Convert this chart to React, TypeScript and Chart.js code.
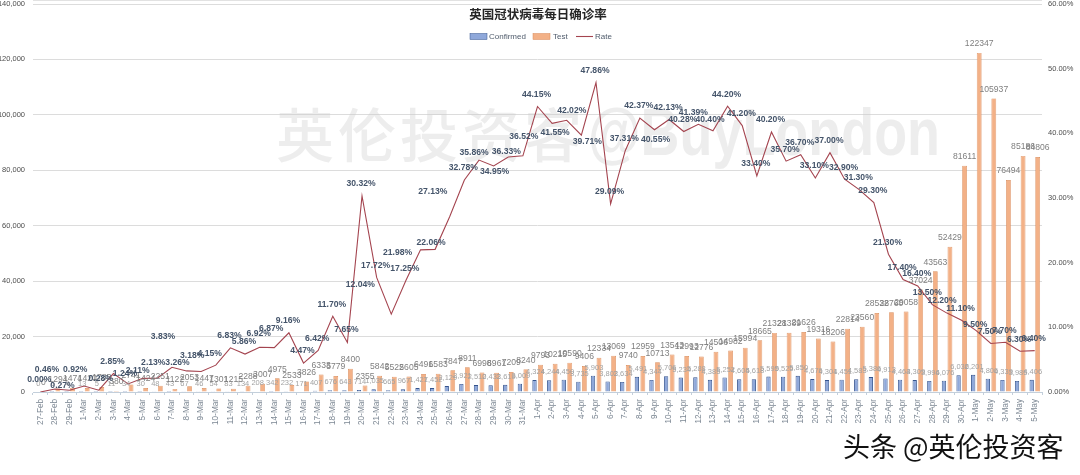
import React, { useEffect, useRef } from "react";
import { Chart, registerables } from "chart.js";

Chart.register(...registerables);

const dates = [
  "27-Feb","28-Feb","29-Feb","1-Mar","2-Mar","3-Mar","4-Mar","5-Mar","6-Mar","7-Mar","8-Mar","9-Mar","10-Mar","11-Mar","12-Mar","13-Mar","14-Mar","15-Mar","16-Mar","17-Mar","18-Mar","19-Mar","20-Mar","21-Mar","22-Mar","23-Mar","24-Mar","25-Mar","26-Mar","27-Mar","28-Mar","29-Mar","30-Mar","31-Mar",
  "1-Apr","2-Apr","3-Apr","4-Apr","5-Apr","6-Apr","7-Apr","8-Apr","9-Apr","10-Apr","11-Apr","12-Apr","13-Apr","14-Apr","15-Apr","16-Apr","17-Apr","18-Apr","19-Apr","20-Apr","21-Apr","22-Apr","23-Apr","24-Apr","25-Apr","26-Apr","27-Apr","28-Apr","29-Apr","30-Apr",
  "1-May","2-May","3-May","4-May","5-May",
];

const confirmed = [
  0,6,4,13,5,11,34,30,48,43,67,46,54,83,134,208,342,232,171,407,676,643,714,1035,665,967,1427,1452,2129,2921,2510,2433,2619,3009,
  4324,4244,4450,3735,5903,3802,3634,5491,4344,5706,5234,5288,4385,5252,4605,4618,5599,5525,5850,4676,4301,4451,4583,5386,4913,4463,4309,3996,4076,6032,
  6201,4806,4339,3985,4406,
];

const tests = [
  0,1294,1474,1420,1785,380,2741,1424,2251,1122,2053,1447,1301,1215,2288,3007,4975,2533,3826,6333,5779,8400,2355,5842,5522,5605,6491,6583,7847,8911,6998,6961,7209,8240,
  9793,10215,10590,9406,12334,13069,9740,12959,10713,13543,12993,12776,14506,14982,15994,18665,21328,21389,21626,19316,18206,22814,23560,28532,28760,29058,37024,43563,52429,81611,
  122347,105937,76494,85186,84806,
];

const rate = [
  0,0.46,0.27,0.92,0.28,2.85,1.24,2.11,2.13,3.83,3.26,3.18,4.15,6.83,5.86,6.92,6.87,9.16,4.47,6.42,11.7,7.65,30.32,17.72,12.04,17.25,21.98,22.06,27.13,32.78,35.86,34.95,36.33,36.52,
  44.15,41.55,42.02,39.71,47.86,29.09,37.31,42.37,40.55,42.13,40.28,41.39,40.4,44.2,41.2,33.4,40.2,35.7,36.7,33.1,37,32.9,31.3,29.3,21.3,17.4,16.4,13.5,12.2,11.1,
  9.5,7.5,7.7,6.3,6.4,
];

const TITLE = "英国冠状病毒每日确诊率";
const WATERMARK_CN = "英伦投资客";
const WATERMARK_EN = "@BuyLondon";
const BYLINE = "头条 @英伦投资客";

// Hand-placed rate labels of the original, as [dx, dy] from the default place.
const rateLabelNudges: Record<number, [number, number]> = {
  1: [-7, -7], 2: [-6, 7], 3: [-8, -4], 4: [3, 0], 6: [-2, 2], 7: [-4, 4], 8: [-3, -4], 9: [-8, -19],
  10: [-8, 4], 11: [-8, -4], 12: [-5, 0], 15: [0, -2], 16: [-2, -7], 21: [0, -1],
  24: [-30, -18], 26: [-22, 15], 27: [-3, 5], 28: [-16, -13], 30: [-4, 5], 31: [2, 18], 32: [-1, 7],
  33: [2, -7], 35: [4, 21], 36: [6, 2], 37: [7, 18], 42: [2, 22], 45: [-4, 0], 46: [-2, 1],
  61: [-4, 0], 62: [-4, 0], 64: [0, 6],
};

const FONT = '"Liberation Sans", Arial, sans-serif';
const CJK = '"Noto Sans CJK SC", sans-serif';

const noScalePadding = (s: any) => {
  s.paddingTop = 0;
  s.paddingBottom = 0;
  s.paddingLeft = 0;
  s.paddingRight = 0;
};

const overlayPlugin = {
  id: "overlay",
  beforeDatasetsDraw(chart: any) {
    const { ctx } = chart;
    ctx.save();
    ctx.fillStyle = "rgba(205,205,205,0.36)";
    ctx.textAlign = "left";
    ctx.textBaseline = "middle";
    ctx.font = `500 58px ${CJK}`;
    (ctx as any).letterSpacing = "4px";
    ctx.fillText(WATERMARK_CN, 276, 135);
    (ctx as any).letterSpacing = "0px";
    ctx.font = `700 66px ${FONT}`;
    ctx.fillText(WATERMARK_EN, 588, 137, 352);
    ctx.restore();
  },
  afterDatasetsDraw(chart: any) {
    const { ctx } = chart;
    const x = chart.scales.x;
    const yL = chart.scales.y;
    const yR = chart.scales.yRate;
    const metaC = chart.getDatasetMeta(1);
    const metaT = chart.getDatasetMeta(2);
    ctx.save();
    ctx.textAlign = "center";
    ctx.textBaseline = "middle";

    ctx.font = `7.5px ${FONT}`;
    ctx.fillStyle = "#a3a3a3";
    confirmed.forEach((v, i) => {
      ctx.fillText(v.toLocaleString("en-US"), metaC.data[i].x + 1, yL.getPixelForValue(v) - 8);
    });

    ctx.font = `8.6px ${FONT}`;
    ctx.fillStyle = "#7f7f7f";
    tests.forEach((v, i) => {
      ctx.fillText(String(v), metaT.data[i].x, yL.getPixelForValue(v) - 9);
    });

    ctx.font = `700 8.6px ${FONT}`;
    ctx.fillStyle = "#44546a";
    rate.forEach((v, i) => {
      const [dx, dy] = rateLabelNudges[i] || [0, 0];
      ctx.fillText(
        v.toFixed(2) + "%",
        x.getPixelForValue(i) - 1 + dx,
        yR.getPixelForValue(v) - 12 + dy
      );
    });
    ctx.restore();
  },
  afterDraw(chart: any) {
    const { ctx, chartArea } = chart;
    const ds = chart.data.datasets;
    ctx.save();
    // faint edge rule above the plot
    ctx.strokeStyle = "#e2e2e2";
    ctx.lineWidth = 1;
    ctx.beginPath();
    ctx.moveTo(chartArea.left, 0.5);
    ctx.lineTo(chartArea.right, 0.5);
    ctx.stroke();
    // title
    ctx.textBaseline = "middle";
    ctx.textAlign = "center";
    ctx.fillStyle = "#262626";
    ctx.font = `700 12.5px ${CJK}`;
    ctx.fillText(TITLE, 538, 14);
    // legend
    ctx.font = `8px ${FONT}`;
    ctx.textAlign = "left";
    const ly = 36.5;
    ctx.fillStyle = ds[1].backgroundColor;
    ctx.strokeStyle = ds[1].borderColor;
    ctx.lineWidth = 0.5;
    ctx.fillRect(470, ly - 3, 17, 6);
    ctx.strokeRect(470, ly - 3, 17, 6);
    ctx.fillStyle = "#4f5b6b";
    ctx.fillText(ds[1].label, 489, ly);
    ctx.fillStyle = ds[2].backgroundColor;
    ctx.strokeStyle = ds[2].borderColor;
    ctx.fillRect(533, ly - 3, 17, 6);
    ctx.strokeRect(533, ly - 3, 17, 6);
    ctx.fillStyle = "#4f5b6b";
    ctx.fillText(ds[2].label, 553, ly);
    ctx.strokeStyle = ds[0].borderColor;
    ctx.lineWidth = 1.1;
    ctx.beginPath();
    ctx.moveTo(576, ly);
    ctx.lineTo(593, ly);
    ctx.stroke();
    ctx.fillText(ds[0].label, 595, ly);
    // byline
    ctx.font = `400 27px ${CJK}`;
    ctx.fillStyle = "#111111";
    ctx.shadowColor = "rgba(255,255,255,0.9)";
    ctx.shadowBlur = 2;
    ctx.fillText(BYLINE, 843, 447);
    ctx.restore();
  },
};

export default function App() {
  const ref = useRef<HTMLCanvasElement>(null);
  useEffect(() => {
    document.body.style.margin = "0";
    const chart = new Chart(ref.current!, {
      type: "bar",
      plugins: [overlayPlugin],
      data: {
        labels: dates,
        datasets: [
          {
            type: "line",
            label: "Rate",
            data: rate,
            yAxisID: "yRate",
            borderColor: "#a4444f",
            borderWidth: 1.1,
            pointRadius: 0,
            tension: 0,
            order: 0,
          },
          {
            label: "Confirmed",
            data: confirmed,
            yAxisID: "y",
            backgroundColor: "#8fa8da",
            borderColor: "#35548e",
            borderWidth: 0.9,
            categoryPercentage: 0.82,
            barPercentage: 0.72,
            order: 1,
          },
          {
            label: "Test",
            data: tests,
            yAxisID: "y",
            backgroundColor: "#f3b187",
            borderColor: "#d98a58",
            borderWidth: 0.7,
            categoryPercentage: 0.82,
            barPercentage: 0.8,
            order: 1,
          },
        ] as any,
      },
      options: {
        animation: false,
        responsive: false,
        devicePixelRatio: 1,
        layout: { autoPadding: false, padding: { top: 4, left: 0, right: 0, bottom: 0 } },
        plugins: { legend: { display: false }, title: { display: false }, tooltip: { enabled: false } },
        scales: {
          x: {
            offset: true,
            grid: { drawOnChartArea: false, drawTicks: true, tickLength: 3, color: "#c3cfdb", offset: true },
            border: { color: "#c3cfdb" },
            ticks: { autoSkip: false, minRotation: 90, maxRotation: 90, padding: 4, color: "#7d8894", font: { family: FONT, size: 8.2 } },
            afterFit: (s: any) => { s.height = 83; noScalePadding(s); },
          },
          y: {
            position: "left",
            min: 0,
            max: 140000,
            grid: { color: "#dcdcdc", lineWidth: 1, drawTicks: false },
            border: { display: false },
            ticks: {
              stepSize: 20000,
              padding: 8,
              color: "#4d4d4d",
              font: { family: FONT, size: 7.5 },
              callback: (v: any) => Number(v).toLocaleString("en-US"),
            },
            afterFit: (s: any) => { s.width = 33; noScalePadding(s); },
          },
          yRate: {
            position: "right",
            min: 0,
            max: 60,
            grid: { drawOnChartArea: false, drawTicks: false },
            border: { display: false },
            ticks: {
              stepSize: 10,
              padding: 6,
              color: "#4d4d4d",
              font: { family: FONT, size: 7.5 },
              callback: (v: any) => Number(v).toFixed(2) + "%",
            },
            afterFit: (s: any) => { s.width = 38; noScalePadding(s); },
          },
        },
      } as any,
    });
    return () => chart.destroy();
  }, []);
  return (
    <div style={{ position: "absolute", left: 0, top: 0, width: 1080, height: 475, overflow: "hidden", background: "#fff" }}>
      <canvas ref={ref} width={1080} height={475} style={{ display: "block", filter: "blur(0.5px)" }} />
    </div>
  );
}
